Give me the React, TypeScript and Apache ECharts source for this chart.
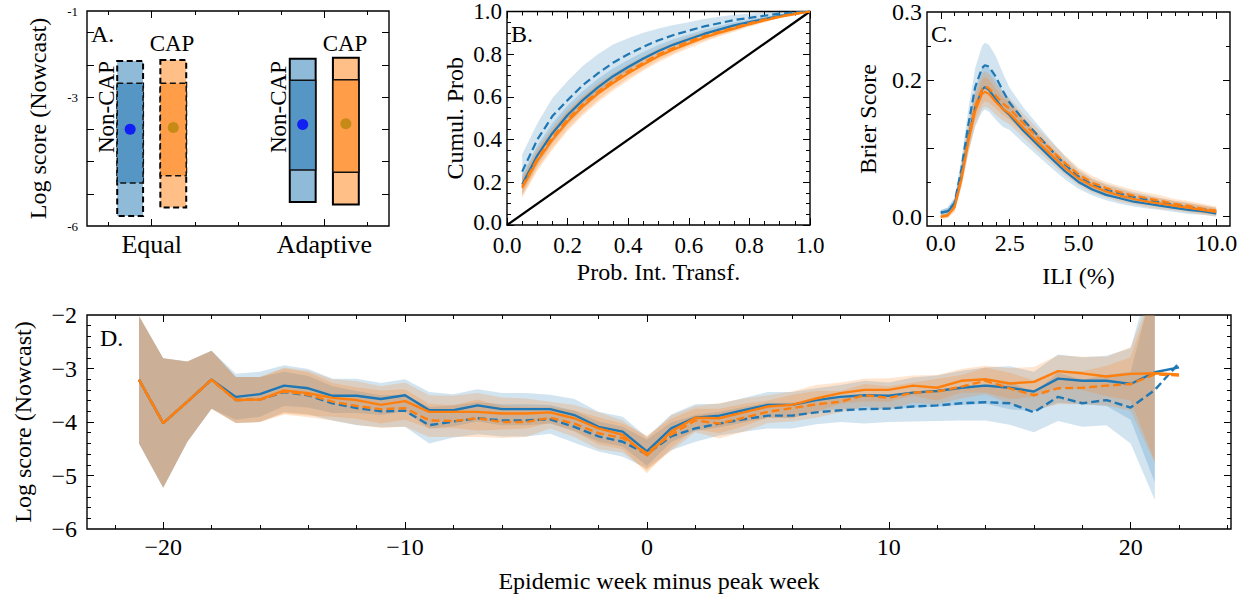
import React, { useEffect, useRef } from 'react';
import * as echarts from 'echarts';

const FONT = '"Liberation Serif", "DejaVu Serif", serif';
const BLUE = '#1f77b4';
const ORANGE = '#ff7f0e';

// ---------- Panel A: box summaries ----------
const boxLabels = ['Non-CAP', 'CAP', 'Non-CAP', 'CAP'];
const boxStrategy = ['Equal', 'Equal', 'Adaptive', 'Adaptive'];
const boxPositions = [1, 2, 5, 6];
const outerHigh = [-2.16, -2.14, -2.11, -2.09];
const innerHigh = [-2.68, -2.68, -2.61, -2.6];
const innerLow = [-5.0, -4.83, -4.7, -4.75];
const outerLow = [-5.77, -5.57, -5.44, -5.5];
const meanScore = [-3.75, -3.71, -3.64, -3.62];
const strategies = ['Equal', 'Adaptive'];

// ---------- Panel B: PIT ----------
const pitX = [0.05, 0.1, 0.15, 0.2, 0.25, 0.3, 0.35, 0.4, 0.45, 0.5, 0.55, 0.6, 0.65, 0.7, 0.75, 0.8, 0.85, 0.9, 0.95, 1.0];
const pitBlueSolid = [0.19, 0.325, 0.43, 0.515, 0.585, 0.645, 0.697, 0.74, 0.78, 0.815, 0.845, 0.87, 0.895, 0.915, 0.935, 0.95, 0.965, 0.98, 0.99, 1.0];
const pitBlueDashed = [0.25, 0.4, 0.51, 0.585, 0.655, 0.71, 0.76, 0.8, 0.835, 0.865, 0.89, 0.91, 0.93, 0.945, 0.96, 0.97, 0.98, 0.99, 0.996, 1.0];
const pitOrangeSolid = [0.173, 0.3, 0.4, 0.485, 0.555, 0.615, 0.665, 0.71, 0.752, 0.79, 0.822, 0.85, 0.877, 0.9, 0.92, 0.94, 0.958, 0.975, 0.988, 1.0];
const pitOrangeDashed = [0.18, 0.31, 0.41, 0.495, 0.565, 0.625, 0.675, 0.72, 0.76, 0.8, 0.83, 0.86, 0.884, 0.905, 0.925, 0.945, 0.962, 0.977, 0.99, 1.0];
const pitSpreadBlueDashed = [0.08, 0.075, 0.085, 0.09, 0.09, 0.09, 0.085, 0.075, 0.065, 0.055, 0.047, 0.04, 0.035, 0.03, 0.025, 0.02, 0.015, 0.01, 0.004, 0];
const pitSpreadOther = [0.045, 0.047, 0.047, 0.045, 0.042, 0.04, 0.036, 0.033, 0.03, 0.028, 0.025, 0.022, 0.02, 0.017, 0.015, 0.012, 0.009, 0.006, 0.003, 0];

// ---------- Panel C: Brier ----------
const iliX = [0, 0.25, 0.5, 0.75, 1, 1.25, 1.5, 1.6, 1.75, 2, 2.25, 2.5, 3, 3.5, 4, 4.5, 5, 5.5, 6, 6.5, 7, 7.5, 8, 8.5, 9, 9.5, 10];
const brierBlueSolid = [0.006, 0.008, 0.018, 0.06, 0.115, 0.16, 0.186, 0.19, 0.186, 0.172, 0.158, 0.149, 0.126, 0.106, 0.086, 0.067, 0.051, 0.04, 0.032, 0.027, 0.022, 0.019, 0.016, 0.013, 0.01, 0.008, 0.005];
const brierBlueDashed = [0.006, 0.008, 0.02, 0.07, 0.135, 0.19, 0.218, 0.222, 0.22, 0.205, 0.185, 0.167, 0.142, 0.12, 0.098, 0.077, 0.059, 0.047, 0.04, 0.034, 0.029, 0.025, 0.021, 0.017, 0.014, 0.011, 0.008];
const brierOrangeSolid = [0.0, 0.002, 0.014, 0.055, 0.11, 0.155, 0.18, 0.183, 0.18, 0.168, 0.158, 0.151, 0.13, 0.11, 0.091, 0.072, 0.056, 0.045, 0.037, 0.031, 0.026, 0.022, 0.019, 0.016, 0.013, 0.01, 0.007];
const brierOrangeDashed = [0.0, 0.002, 0.015, 0.058, 0.114, 0.162, 0.187, 0.191, 0.188, 0.177, 0.166, 0.158, 0.137, 0.117, 0.098, 0.079, 0.062, 0.05, 0.042, 0.036, 0.031, 0.027, 0.023, 0.019, 0.016, 0.012, 0.009];
const brierSpreadBlue = [0.004, 0.005, 0.008, 0.015, 0.022, 0.028, 0.032, 0.033, 0.032, 0.03, 0.026, 0.022, 0.018, 0.016, 0.014, 0.012, 0.01, 0.009, 0.008, 0.008, 0.007, 0.007, 0.006, 0.006, 0.006, 0.005, 0.005];
const brierSpreadOrange = [0.003, 0.004, 0.007, 0.012, 0.017, 0.02, 0.022, 0.022, 0.021, 0.019, 0.017, 0.016, 0.014, 0.013, 0.012, 0.011, 0.01, 0.01, 0.009, 0.009, 0.008, 0.008, 0.008, 0.007, 0.007, 0.007, 0.006];

// ---------- Panel D: log score by week ----------
const weeks = [-21, -20, -19, -18, -17, -16, -15, -14, -13, -12, -11, -10, -9, -8, -7, -6, -5, -4, -3, -2, -1, 0, 1, 2, 3, 4, 5, 6, 7, 8, 9, 10, 11, 12, 13, 14, 15, 16, 17, 18, 19, 20, 21, 22];
const logBlueSolid = [-3.21, -4.02, -3.62, -3.21, -3.53, -3.48, -3.32, -3.37, -3.51, -3.51, -3.57, -3.5, -3.78, -3.78, -3.69, -3.76, -3.76, -3.76, -3.87, -4.09, -4.18, -4.55, -4.12, -3.92, -3.88, -3.78, -3.68, -3.68, -3.59, -3.53, -3.5, -3.51, -3.45, -3.42, -3.36, -3.32, -3.36, -3.43, -3.19, -3.23, -3.23, -3.29, -3.07, -2.98];
const logOrangeSolid = [-3.21, -4.02, -3.62, -3.21, -3.59, -3.58, -3.41, -3.46, -3.55, -3.59, -3.68, -3.61, -3.81, -3.81, -3.81, -3.84, -3.84, -3.82, -3.93, -4.12, -4.24, -4.63, -4.18, -3.92, -3.93, -3.82, -3.71, -3.68, -3.56, -3.46, -3.4, -3.4, -3.32, -3.36, -3.23, -3.2, -3.28, -3.25, -3.05, -3.09, -3.15, -3.1, -3.09, -3.11];
const logBlueDashed = [-3.21, -4.02, -3.62, -3.21, -3.59, -3.58, -3.44, -3.5, -3.65, -3.74, -3.8, -3.79, -4.06, -3.99, -3.93, -3.97, -3.97, -3.95, -4.09, -4.27, -4.37, -4.6, -4.27, -4.12, -4.03, -3.95, -3.88, -3.88, -3.82, -3.78, -3.76, -3.75, -3.71, -3.69, -3.65, -3.63, -3.65, -3.82, -3.53, -3.65, -3.59, -3.73, -3.4, -2.9];
const logOrangeDashed = [-3.21, -4.02, -3.62, -3.21, -3.59, -3.58, -3.43, -3.49, -3.62, -3.7, -3.76, -3.74, -3.97, -3.98, -3.93, -4.0, -4.0, -3.92, -4.03, -4.21, -4.3, -4.58, -4.24, -3.97, -4.03, -3.92, -3.81, -3.74, -3.67, -3.62, -3.5, -3.55, -3.45, -3.43, -3.34, -3.23, -3.37, -3.5, -3.37, -3.36, -3.32, -3.29, -3.11, -3.13];
// band half-widths, weeks -21..21
const logSpreadBlue = [1.19, 1.21, 0.75, 0.54, 0.43, 0.42, 0.38, 0.36, 0.32, 0.32, 0.3, 0.3, 0.34, 0.3, 0.3, 0.3, 0.3, 0.27, 0.3, 0.28, 0.28, 0.27, 0.26, 0.25, 0.22, 0.23, 0.24, 0.24, 0.22, 0.22, 0.27, 0.25, 0.28, 0.29, 0.32, 0.34, 0.4, 0.37, 0.45, 0.44, 0.47, 0.67, 2.06];
const logSpreadOrange = [1.19, 1.21, 0.75, 0.54, 0.43, 0.42, 0.43, 0.42, 0.35, 0.35, 0.35, 0.35, 0.31, 0.3, 0.35, 0.3, 0.28, 0.2, 0.25, 0.3, 0.27, 0.33, 0.3, 0.22, 0.28, 0.26, 0.21, 0.25, 0.25, 0.2, 0.21, 0.22, 0.19, 0.24, 0.22, 0.25, 0.29, 0.28, 0.3, 0.31, 0.37, 0.5, 1.65];

const r = (v: number) => Math.round(v * 1e6) / 1e6;
const minus = (v: number) => (v < 0 ? '\u2212' + String(Math.abs(v)) : String(v));

type AxisCfg = {
  min: number; max: number; major: number[]; minor: number[]; labels: number[];
  fmt: (v: number) => string; fontSize: number; margin: number; lineHeight?: number; rich?: any;
  name?: string; nameGap?: number; nameSize?: number;
};

function buildOption() {
  const xAxes: any[] = [];
  const yAxes: any[] = [];
  const mk = (gi: number, cfg: AxisCfg, pos: string, ticks: number[], len: number, withLabels: boolean) => ({
    gridIndex: gi, type: 'value', position: pos, min: cfg.min, max: cfg.max,
    axisLine: { show: false, onZero: false },
    splitLine: { show: false },
    axisTick: { show: ticks.length > 0, inside: true, length: len, customValues: ticks, lineStyle: { color: '#000', width: 1 } },
    axisLabel: withLabels
      ? { show: true, customValues: cfg.labels, formatter: cfg.fmt, fontSize: cfg.fontSize, margin: cfg.margin,
          lineHeight: cfg.lineHeight ?? cfg.fontSize, color: '#000', fontFamily: FONT, rich: cfg.rich }
      : { show: false },
    name: withLabels && cfg.name ? cfg.name : '',
    nameLocation: 'middle',
    nameGap: cfg.nameGap ?? 30,
    nameTextStyle: { fontSize: cfg.nameSize ?? 24, fontFamily: FONT, color: '#000' },
  });
  const addAxes = (gi: number, x: AxisCfg, y: AxisCfg) => {
    const xi = xAxes.length;
    const yi = yAxes.length;
    xAxes.push(mk(gi, x, 'bottom', x.major, 7, true), mk(gi, x, 'bottom', x.minor, 4, false), mk(gi, x, 'top', x.major, 7, false), mk(gi, x, 'top', x.minor, 4, false));
    yAxes.push(mk(gi, y, 'left', y.major, 7, true), mk(gi, y, 'left', y.minor, 4, false), mk(gi, y, 'right', y.major, 7, false), mk(gi, y, 'right', y.minor, 4, false));
    return { xi, yi };
  };

  const grids = [
    { left: 87, top: 11, width: 302, height: 215 },
    { left: 507, top: 11, width: 303, height: 214 },
    { left: 927, top: 11, width: 303, height: 215 },
    { left: 87, top: 315, width: 1144, height: 214 },
  ].map((g) => ({ ...g, show: true, borderColor: '#000', borderWidth: 1.4, backgroundColor: 'transparent' }));

  // A axes
  const strategyPos = strategies.map((s) => {
    const ps = boxPositions.filter((_, i) => boxStrategy[i] === s);
    return ps.reduce((a, b) => a + b, 0) / ps.length;
  });
  const axA = addAxes(0,
    { min: 0, max: 7, major: strategyPos, minor: [0.5, 2.5, 3.5, 4.5, 6.5], labels: strategyPos,
      fmt: (v) => strategies[strategyPos.indexOf(v)] ?? '', fontSize: 26, lineHeight: 20, margin: 8 },
    { min: -6, max: -1, major: [-5.25, -4.5, -3.75, -3, -2.25, -1.5], minor: [], labels: [-6, -3, -1],
      fmt: (v) => String(v), fontSize: 13, margin: 9, name: 'Log score (Nowcast)', nameGap: 37, nameSize: 24 });

  const bMinor: number[] = [];
  for (let i = 1; i < 20; i++) if (i % 4 !== 0) bMinor.push(r(i * 0.05));
  const bMajor = [0, 0.2, 0.4, 0.6, 0.8, 1];
  const axB = addAxes(1,
    { min: 0, max: 1, major: bMajor, minor: bMinor, labels: bMajor, fmt: (v) => v.toFixed(1), fontSize: 23, lineHeight: 18, margin: 11,
      name: 'Prob. Int. Transf.', nameGap: 35 },
    { min: 0, max: 1, major: bMajor, minor: bMinor, labels: bMajor,
      fmt: (v) => (v === 0 ? '{lo|0.0}' : v.toFixed(1)), fontSize: 23, lineHeight: 18, margin: 5,
      rich: { lo: { fontSize: 23, fontFamily: FONT, color: '#000', lineHeight: 18, padding: [0, 0, 6, 0] } },
      name: 'Cumul. Prob', nameGap: 40 });

  const cxMinor: number[] = [];
  for (let i = 1; i <= 20; i++) if (i % 5 !== 0) cxMinor.push(r(i * 0.5));
  const axC = addAxes(2,
    { min: -0.5, max: 10.5, major: [0, 2.5, 5, 7.5, 10], minor: cxMinor, labels: [0, 2.5, 5, 10], fmt: (v) => v.toFixed(1), fontSize: 24, lineHeight: 18, margin: 8,
      name: 'ILI (%)', nameGap: 38 },
    { min: -0.0136, max: 0.3, major: [0, 0.1, 0.2], minor: [0.05, 0.15, 0.25], labels: [0, 0.2, 0.3], fmt: (v) => v.toFixed(1), fontSize: 24, lineHeight: 18, margin: 5,
      name: 'Brier Score', nameGap: 47 });

  const dxMinor: number[] = [];
  for (let v = -22; v <= 24; v += 2) if (v % 10 !== 0) dxMinor.push(v);
  const dyMinor: number[] = [];
  for (let i = -29; i <= -11; i++) if (i % 5 !== 0) dyMinor.push(r(i * 0.2));
  const axD = addAxes(3,
    { min: -23.15, max: 24.15, major: [-20, -10, 0, 10, 20], minor: dxMinor, labels: [-20, -10, 0, 10, 20], fmt: minus, fontSize: 24, lineHeight: 18, margin: 9,
      name: 'Epidemic week minus peak week', nameGap: 40 },
    { min: -6, max: -2, major: [-5, -4, -3], minor: dyMinor, labels: [-6, -5, -4, -3, -2], fmt: minus, fontSize: 24, lineHeight: 18, margin: 10,
      name: 'Log score (Nowcast)', nameGap: 52 });

  const band = (ax: { xi: number; yi: number }, xs: number[], center: number[], spread: number[], color: string, opacity = 0.2) => {
    const n = spread.length;
    return {
      type: 'custom', xAxisIndex: ax.xi, yAxisIndex: ax.yi, silent: true, z: 1,
      data: [[xs[0], center[0]]],
      renderItem: (params: any, api: any) => {
        const pts: number[][] = [];
        for (let i = 0; i < n; i++) pts.push(api.coord([xs[i], center[i] + spread[i]]));
        for (let i = n - 1; i >= 0; i--) pts.push(api.coord([xs[i], center[i] - spread[i]]));
        const cs = params.coordSys;
        return {
          type: 'polygon', shape: { points: pts }, style: { fill: color, opacity },
          clipPath: { type: 'rect', shape: { x: cs.x, y: cs.y, width: cs.width, height: cs.height } },
        };
      },
    };
  };
  const line = (ax: { xi: number; yi: number }, xs: number[], ys: number[], color: string, dashed: boolean, width = 2.2) => ({
    type: 'line', xAxisIndex: ax.xi, yAxisIndex: ax.yi, showSymbol: false, silent: true, z: 3,
    data: xs.map((x, i) => [x, ys[i]]),
    lineStyle: { color, width, type: dashed ? [8, 4] : 'solid' },
  });

  const series: any[] = [];

  // Panel A
  series.push({
    type: 'custom', xAxisIndex: axA.xi, yAxisIndex: axA.yi, silent: true, z: 2,
    encode: { x: 0, y: [1, 2, 3, 4] },
    data: boxPositions.map((p, i) => [p, outerLow[i], innerLow[i], innerHigh[i], outerHigh[i]]),
    renderItem: (params: any, api: any) => {
      const i = params.dataIndex;
      const x = api.value(0);
      const hw = 0.3;
      const oTL = api.coord([x - hw, api.value(4)]);
      const oBR = api.coord([x + hw, api.value(1)]);
      const iTL = api.coord([x - hw, api.value(3)]);
      const iBR = api.coord([x + hw, api.value(2)]);
      const cap = boxLabels[i] === 'CAP';
      const dashed = boxStrategy[i] === 'Equal';
      const light = cap ? '#ffbf86' : '#8fbbd9';
      const dark = cap ? '#ff9d48' : '#5596c5';
      const dash = dashed ? [6, 3.5] : null;
      return {
        type: 'group',
        children: [
          { type: 'rect', shape: { x: oTL[0], y: oTL[1], width: oBR[0] - oTL[0], height: oBR[1] - oTL[1] },
            style: { fill: light, stroke: '#000', lineWidth: 2, lineDash: dash } },
          { type: 'rect', shape: { x: iTL[0], y: iTL[1], width: iBR[0] - iTL[0], height: iBR[1] - iTL[1] },
            style: { fill: dark, stroke: '#111', lineWidth: 1.5, lineDash: dash } },
        ],
      };
    },
  });
  series.push({
    type: 'scatter', xAxisIndex: axA.xi, yAxisIndex: axA.yi, silent: true, z: 4, symbolSize: 11,
    data: boxPositions.map((p, i) => ({ value: [p, meanScore[i]], itemStyle: { color: boxLabels[i] === 'CAP' ? '#b8860b' : '#0000ff' } })),
  });

  // Panel B
  series.push(band(axB, pitX, pitBlueDashed, pitSpreadBlueDashed, BLUE));
  series.push(band(axB, pitX, pitBlueSolid, pitSpreadOther, BLUE));
  series.push(band(axB, pitX, pitOrangeSolid, pitSpreadOther, ORANGE));
  series.push(band(axB, pitX, pitOrangeDashed, pitSpreadOther, ORANGE));
  series.push({ ...line(axB, [0, 1], [0, 1], '#000', false, 2.2), z: 2 });
  series.push(line(axB, pitX, pitBlueSolid, BLUE, false));
  series.push(line(axB, pitX, pitBlueDashed, BLUE, true));
  series.push(line(axB, pitX, pitOrangeSolid, ORANGE, false));
  series.push(line(axB, pitX, pitOrangeDashed, ORANGE, true));

  // Panel C
  series.push(band(axC, iliX, brierBlueDashed, brierSpreadBlue, BLUE));
  series.push(band(axC, iliX, brierBlueSolid, brierSpreadBlue, BLUE));
  series.push(band(axC, iliX, brierOrangeSolid, brierSpreadOrange, ORANGE));
  series.push(band(axC, iliX, brierOrangeDashed, brierSpreadOrange, ORANGE));
  series.push(line(axC, iliX, brierBlueSolid, BLUE, false));
  series.push(line(axC, iliX, brierBlueDashed, BLUE, true));
  series.push(line(axC, iliX, brierOrangeSolid, ORANGE, false));
  series.push(line(axC, iliX, brierOrangeDashed, ORANGE, true));

  // Panel D
  series.push(band(axD, weeks, logBlueSolid, logSpreadBlue, BLUE));
  series.push(band(axD, weeks, logBlueDashed, logSpreadBlue, BLUE));
  series.push(band(axD, weeks, logOrangeSolid, logSpreadOrange, ORANGE));
  series.push(band(axD, weeks, logOrangeDashed, logSpreadOrange, ORANGE));
  series.push(line(axD, weeks, logBlueSolid, BLUE, false, 2.4));
  series.push(line(axD, weeks, logBlueDashed, BLUE, true, 2.4));
  series.push(line(axD, weeks, logOrangeSolid, ORANGE, false, 2.4));
  series.push(line(axD, weeks, logOrangeDashed, ORANGE, true, 2.4));

  const txt = (text: string, x: number, y: number, size: number, align = 'left', rotation = 0) => ({
    type: 'text', x, y, rotation, silent: true, z: 10,
    style: { text, fontSize: size, fontFamily: FONT, fill: '#000', textAlign: align, textVerticalAlign: 'middle' },
  });

  const graphic = [
    txt('A.', 91, 34, 24),
    txt('B.', 511, 34, 24),
    txt('C.', 931, 34, 24),
    txt('D.', 100, 338, 24),
    txt('CAP', 172, 43, 23, 'center'),
    txt('CAP', 345, 43, 23, 'center'),
    txt('Non-CAP', 106, 107, 23, 'center', Math.PI / 2),
    txt('Non-CAP', 278, 107, 23, 'center', Math.PI / 2),
  ];

  return {
    animation: false,
    backgroundColor: '#fff',
    textStyle: { fontFamily: FONT },
    grid: grids,
    xAxis: xAxes,
    yAxis: yAxes,
    series,
    graphic,
  };
}

export default function App() {
  const ref = useRef<HTMLDivElement>(null);
  useEffect(() => {
    document.body.style.margin = '0';
    if (!ref.current) return;
    const chart = echarts.init(ref.current, null, { renderer: 'svg' });
    chart.setOption(buildOption() as any);
    return () => chart.dispose();
  }, []);
  return <div ref={ref} style={{ width: 1248, height: 594 }} />;
}
